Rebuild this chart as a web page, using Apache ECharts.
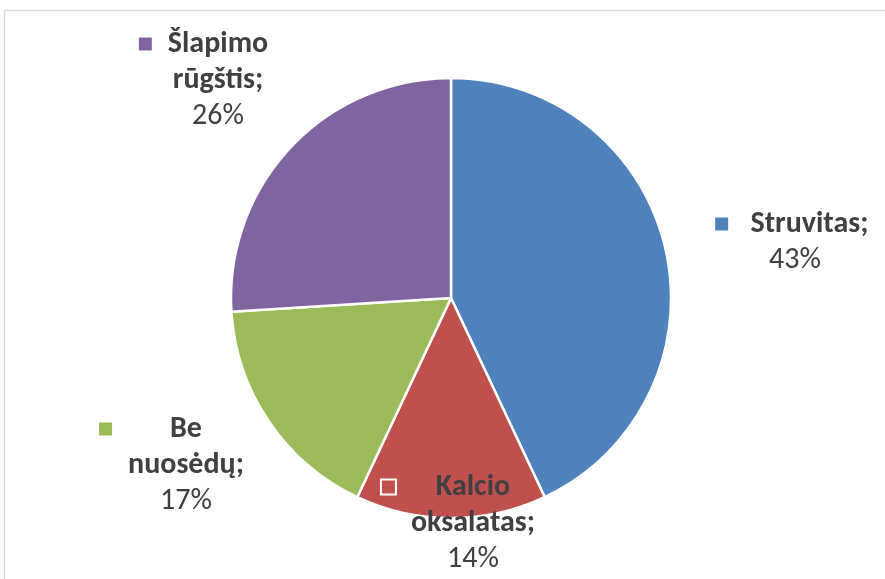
<!DOCTYPE html>
<html>
<head>
<meta charset="utf-8">
<script src="https://cdn.jsdelivr.net/npm/echarts@6/dist/echarts.min.js"></script>
<style>
  html, body { margin: 0; padding: 0; background: #fff; }
  #chart { width: 885px; height: 579px; }
</style>
</head>
<body>
<div id="chart"></div>
<script>
// duomenys
var categories = ['Struvitas', 'Kalcio oksalatas', 'Be nuosėdų', 'Šlapimo rūgštis'];
var values = [43, 14, 17, 26];
var colors = ['#4F81BD', '#C0504D', '#9BBB59', '#8064A2'];

// etikeciu centrai (isdestymas)
var labelPos = [[795, 242], [473, 523], [186, 465], [218, 80]];

var chart = echarts.init(document.getElementById('chart'));

var rich = {
  k: { width: 13, height: 13, backgroundColor: '#000', borderColor: '#fff', borderWidth: 2, align: 'left', lineHeight: 36 },
  g: { width: 16, align: 'left', lineHeight: 36 },
  l: { width: 29, align: 'left', lineHeight: 36 },
  r: { width: 29, align: 'right', lineHeight: 36 },
  n: { fontWeight: 'bold', fontSize: 30, color: '#404040', align: 'center', lineHeight: 36 },
  p: { fontWeight: 'normal', fontSize: 30, color: '#404040', align: 'center', lineHeight: 36 }
};

var data = categories.map(function (name, i) {
  var r = {};
  Object.keys(rich).forEach(function (key) { r[key] = Object.assign({}, rich[key]); });
  r.k.backgroundColor = colors[i];
  return {
    name: name,
    value: values[i],
    itemStyle: { color: colors[i] },
    label: { rich: r }
  };
});

var option = {
  backgroundColor: '#fff',
  textStyle: { fontFamily: 'Carlito, "Open Sans", sans-serif' },
  graphic: [{
    type: 'rect',
    silent: true,
    shape: { x: 4.5, y: 10.5, width: 1000, height: 1000 },
    style: { fill: 'none', stroke: '#d9d9d9', lineWidth: 1.5 }
  }],
  series: [{
    type: 'pie',
    center: [451, 298],
    radius: 220,
    startAngle: 90,
    clockwise: true,
    animation: false,
    itemStyle: { borderColor: '#fff', borderWidth: 2.5 },
    labelLine: { show: false },
    label: {
      show: true,
      position: 'outside',
      fontFamily: 'Carlito, "Open Sans", sans-serif',
      formatter: function (params) {
        var words = params.name.split(' ');
        var lines = [];
        words.forEach(function (w, j) {
          var t = w + (j === words.length - 1 ? ';' : '');
          if (j === 0) lines.push('{k| }{g| }{n|' + t + '}{r| }');
          else lines.push('{l| }{n|' + t + '}{r| }');
        });
        lines.push('{l| }{p|' + params.value + '%}{r| }');
        return lines.join('\n');
      }
    },
    labelLayout: function (params) {
      var p = labelPos[params.dataIndex];
      return { x: p[0], y: p[1], align: 'center', verticalAlign: 'middle', hideOverlap: false };
    },
    data: data
  }]
};

chart.setOption(option);
</script>
</body>
</html>
